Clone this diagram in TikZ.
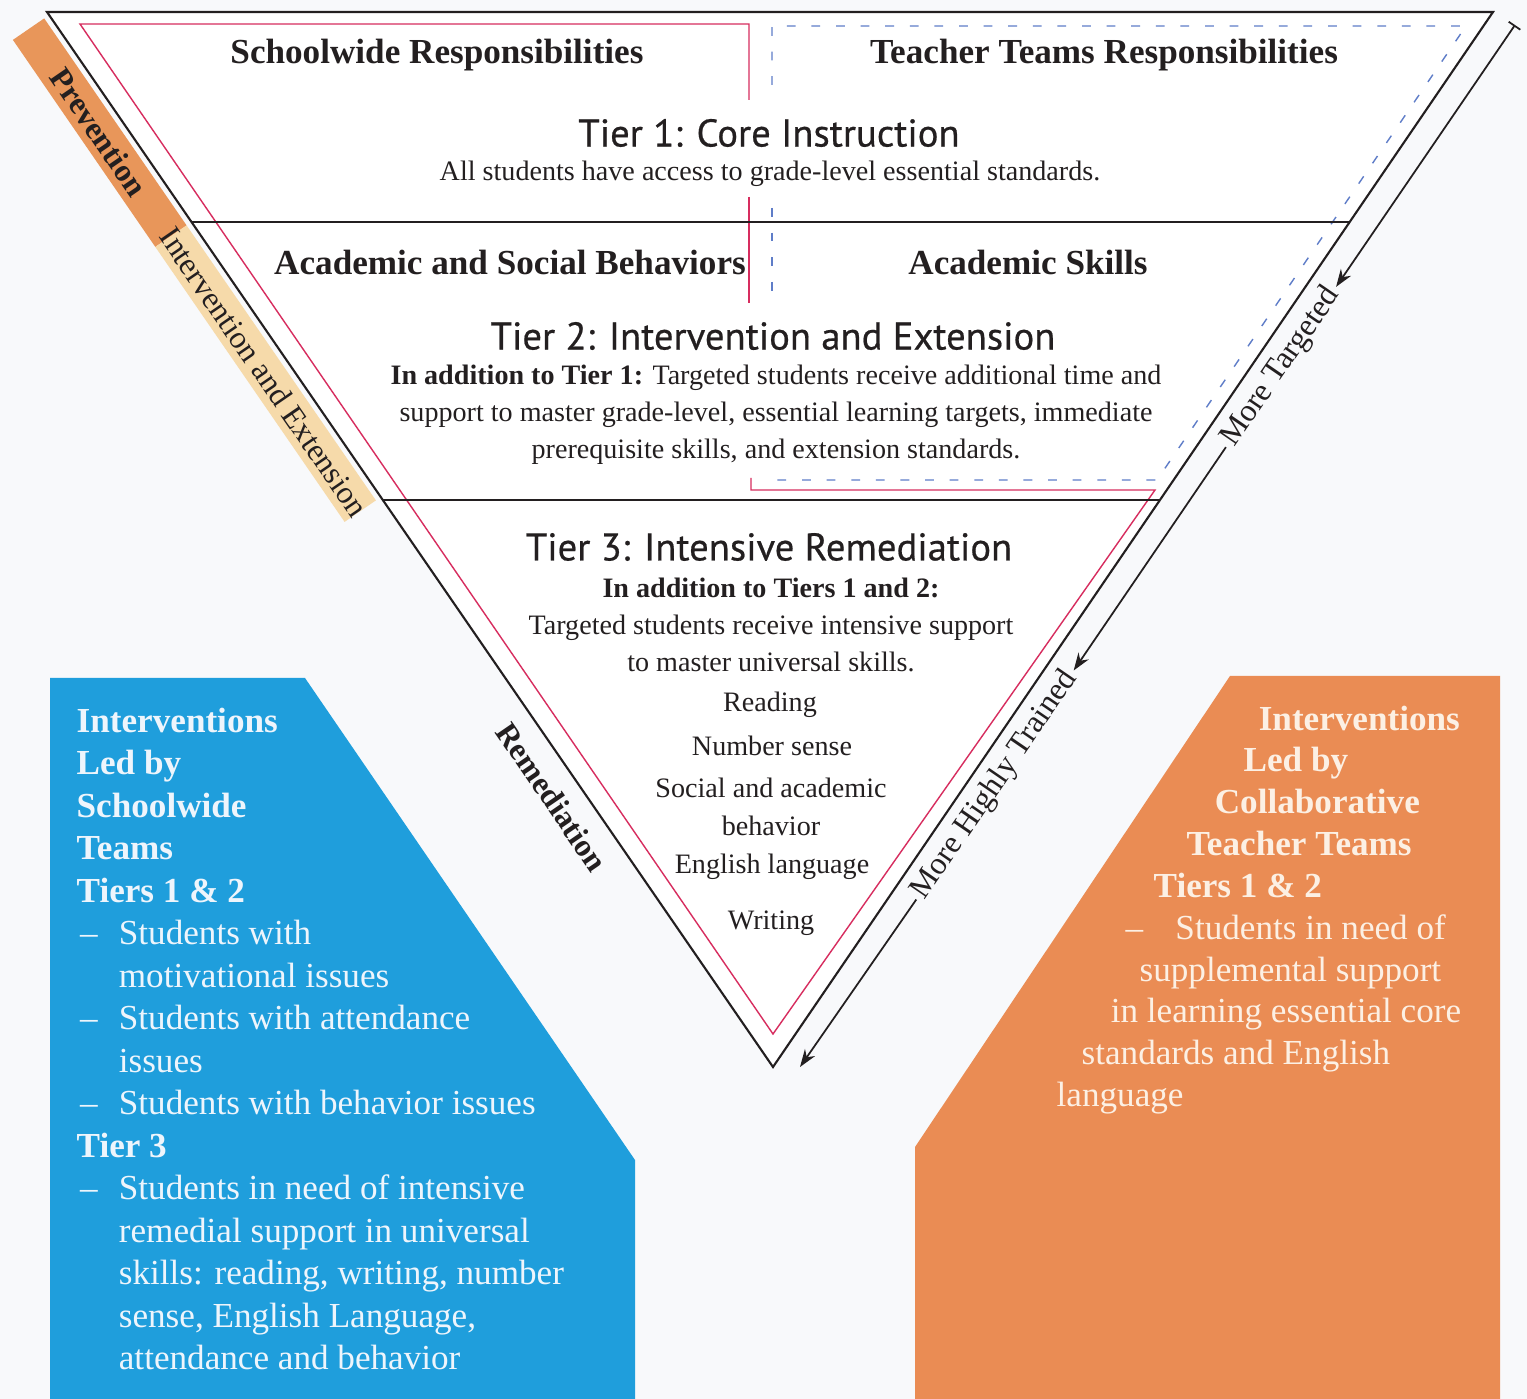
\documentclass[tikz,border=0pt]{standalone}
\usepackage{fontspec}
\setmainfont{Liberation Serif}
\newfontfamily\tiersans{PT Sans}[FakeBold=0.5]
\usetikzlibrary{arrows.meta}

\definecolor{ink}{RGB}{35,31,32}
\definecolor{pagebg}{RGB}{248,249,251}
\definecolor{crimson}{RGB}{215,45,95}
\definecolor{dashblue}{RGB}{95,125,200}
\definecolor{boxblue}{RGB}{31,158,220}
\definecolor{boxorange}{RGB}{234,140,84}
\definecolor{prevorange}{RGB}{232,150,90}
\definecolor{bandtan}{RGB}{246,218,170}
\definecolor{bluetext}{RGB}{238,245,252}
\definecolor{orangetext}{RGB}{252,240,228}

\newcommand{\dashitem}[1]{\makebox[12pt][l]{\hspace{1pt}--}#1}

\begin{document}
\begin{tikzpicture}[
    x=0.1mm, y=-0.1mm,
    outline/.style={draw=ink, line width=0.6pt},
    redline/.style={draw=crimson, line width=0.4pt},
    blueline/.style={draw=dashblue, line width=0.4pt, dash pattern=on 2.5pt off 4.5pt},
    head/.style={font=\fontsize{10}{12}\selectfont\bfseries, text=ink},
    tiertitle/.style={font=\tiersans\fontsize{11}{13}\selectfont, text=ink},
    body/.style={font=\fontsize{8}{10.5}\selectfont, text=ink, align=center},
    skill/.style={font=\fontsize{8}{10.6}\selectfont, text=ink, align=center},
    sidelabel/.style={font=\fontsize{9}{10}\selectfont, text=ink, inner sep=1pt},
    arrow/.style={-{Stealth[length=5pt,width=3.5pt]}, line width=0.5pt, draw=ink},
    bararrow/.style={{Bar[width=4pt]}-{Stealth[length=5pt,width=3.5pt]}, line width=0.5pt, draw=ink}
]

% page
\fill[pagebg] (0,0) rectangle (1527,1399);
\useasboundingbox (0,0) rectangle (1527,1399);

% side boxes
\fill[boxblue] (50,678) -- (305,678) -- (635,1160) -- (635,1399) -- (50,1399) -- cycle;
\fill[boxorange] (1230,676) -- (1500,676) -- (1500,1399) -- (915,1399) -- (915,1147) -- cycle;

% bands along the left edge
\fill[prevorange] (44.2,18.4) -- (186.6,225.4) -- (155.3,246.9) -- (12.9,39.9) -- cycle;
\fill[bandtan] (186.6,225.4) -- (375.9,500.4) -- (344.6,521.9) -- (155.3,246.9) -- cycle;

% inverted triangle
\coordinate (tl) at (47,12);
\coordinate (tr) at (1493,12);
\coordinate (apex) at (773,1067);
\coordinate (t1l) at (191.5,222);
\coordinate (t1r) at (1349.7,222);
\coordinate (t2l) at (382.8,500);
\coordinate (t2r) at (1160,500);

\fill[white] (tl) -- (tr) -- (apex) -- cycle;

% schoolwide (red) and teacher team (blue) outlines
\draw[redline] (749,100) -- (749,24) -- (80,24) -- (773,1034) -- (1155,490) -- (751,490) -- (751,478);
\draw[redline] (749,197) -- (749,303);
\draw[blueline] (772,85) -- (772,26) -- (1466,26) -- (1157,480) -- (770,480);
\draw[blueline] (772,208) -- (772,297);

\draw[outline] (tl) -- (tr) -- (apex) -- cycle;
\draw[outline] (t1l) -- (t1r);
\draw[outline] (t2l) -- (t2r);

% Tier 1
\node[head] (swresp) at (437,55) {Schoolwide Responsibilities};
\node[head] (ttresp) at (1104,55) {Teacher Teams Responsibilities};
\node[tiertitle] (tier1) at (769,133) {Tier 1: Core Instruction};
\node[body] (tier1txt) at (770,174) {All students have access to grade-level essential standards.};

% Tier 2
\node[head] (behav) at (510,262) {Academic and Social Behaviors};
\node[head] (skills) at (1028,262) {Academic Skills};
\node[tiertitle] (tier2) at (773,336) {Tier 2: Intervention and Extension};
\node[body] (tier2txt) at (776,415) {\textbf{In addition to Tier 1:} Targeted students receive additional time and\\
    support to master grade-level, essential learning targets, immediate\\
    prerequisite skills, and extension standards.};

% Tier 3
\node[tiertitle] (tier3) at (769,547) {Tier 3: Intensive Remediation};
\node[body] (tier3txt) at (771,625) {\textbf{In addition to Tiers 1 and 2:}\\
    Targeted students receive intensive support\\
    to master universal skills.};
\node[skill] (reading) at (770,705) {Reading};
\node[skill] (numsense) at (772,746) {Number sense};
\node[skill] (social) at (771,807) {Social and academic\\behavior};
\node[skill] (english) at (772,867) {English language};
\node[skill] (writing) at (771,923) {Writing};

% labels along the left edge
\node[sidelabel, font=\fontsize{9}{10}\selectfont\bfseries, rotate=-55.5] (prev) at (99,132) {Prevention};
\node[sidelabel, rotate=-55.5] (intext) at (264,372) {Intervention and Extension};
\node[sidelabel, font=\fontsize{9}{10}\selectfont\bfseries, rotate=-55.5] (remed) at (552,797) {Remediation};

% arrow along the right edge
\coordinate (mtop) at (1515,25);
\coordinate (mbot) at (800,1067);
\node[sidelabel, rotate=55.5] (tgt) at (1281,367) {More Targeted};
\node[sidelabel, rotate=55.5] (trained) at (995,785) {More Highly Trained};
\draw[bararrow] (mtop) -- (tgt.east);
\draw[arrow] (tgt.west) -- (trained.east);
\draw[arrow] (trained.west) -- (mbot);

% schoolwide teams box
\node[anchor=north west, inner sep=0pt, align=left, text=bluetext,
      font=\fontsize{10}{12.1}\selectfont] (swteams) at (76,707) {%
    \textbf{Interventions}\\
    \textbf{Led by}\\
    \textbf{Schoolwide}\\
    \textbf{Teams}\\
    \textbf{Tiers 1 \& 2}\\
    \dashitem{Students with}\\
    \hspace*{12pt}motivational issues\\
    \dashitem{Students with attendance}\\
    \hspace*{12pt}issues\\
    \dashitem{Students with behavior issues}\\
    \textbf{Tier 3}\\
    \dashitem{Students in need of intensive}\\
    \hspace*{12pt}remedial support in universal\\
    \hspace*{12pt}skills: reading, writing, number\\
    \hspace*{12pt}sense, English Language,\\
    \hspace*{12pt}attendance and behavior};

% collaborative teacher teams box
\node[anchor=north west, inner sep=0pt, align=left, text=orangetext,
      font=\fontsize{10}{11.9}\selectfont] (ctteams) at (1056,705) {%
    \hspace*{57.5pt}\textbf{Interventions}\\
    \hspace*{53.2pt}\textbf{Led by}\\
    \hspace*{45pt}\textbf{Collaborative}\\
    \hspace*{37pt}\textbf{Teacher Teams}\\
    \hspace*{27.6pt}\textbf{Tiers 1 \& 2}\\
    \hspace*{19.6pt}\makebox[14.2pt][l]{--}Students in need of\\
    \hspace*{23.6pt}supplemental support\\
    \hspace*{15.4pt}in learning essential core\\
    \hspace*{7.1pt}standards and English\\
    language};

\end{tikzpicture}
\end{document}
